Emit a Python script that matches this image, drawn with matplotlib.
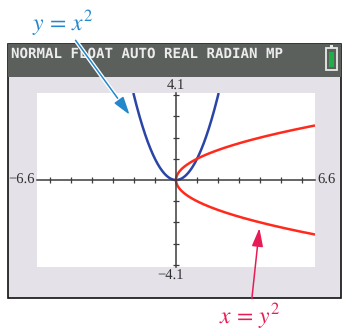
import numpy as np
import matplotlib.pyplot as plt
from matplotlib.patches import Rectangle
import matplotlib.patheffects as pe

# graphing window (calculator WINDOW settings)
xmin, xmax = -6.6, 6.6
ymin, ymax = -4.1, 4.1
xscl, yscl = 1, 1

# curve labels
parab_label = r'$y\,=\,x^2$'
side_label = r'$x\,=\,y^2$'
status_text = 'NORMAL FLOAT AUTO REAL RADIAN MP'

# y = x^2 shown where it fits the window, x = y^2 likewise
x_par = np.linspace(-np.sqrt(ymax), np.sqrt(ymax), 200)
y_par = x_par ** 2
y_side = np.linspace(-np.sqrt(xmax), np.sqrt(xmax), 200)
x_side = y_side ** 2

plt.rcParams['mathtext.fontset'] = 'stix'
plt.rcParams['text.hinting'] = 'none'
W, H = 342, 332
fig = plt.figure(figsize=(W / 100, H / 100), dpi=100)

# background in pixel coords: calculator screen
bg = fig.add_axes([0, 0, 1, 1])
bg.set_xlim(0, W)
bg.set_ylim(H, 0)
bg.axis('off')
bg.add_patch(Rectangle((8, 44), 333, 254, facecolor='#e4e2e8', edgecolor='#111111', lw=1.2))
bg.add_patch(Rectangle((8, 44), 333, 33, facecolor='#5b605d', edgecolor='none'))
bg.text(11, 54, status_text, color='#ececec', fontsize=10.2, family='DejaVu Sans Mono',
        fontweight='bold', va='center', ha='left')
# battery icon
bg.add_patch(Rectangle((325.5, 47.5), 11, 22, facecolor='none', edgecolor='#e8ece8', lw=1.3))
bg.add_patch(Rectangle((329.5, 45), 3.5, 2.5, facecolor='#e8ece8', edgecolor='none'))
bg.add_patch(Rectangle((328.5, 52), 5, 15, facecolor='#1fae48', edgecolor='none'))

# graph area
left, right, top, bottom = 37, 315, 93, 267
ax = fig.add_axes([left / W, 1 - bottom / H, (right - left) / W, (bottom - top) / H])
ax.set_facecolor('white')
ax.set_xlim(xmin, xmax)
ax.set_ylim(ymin, ymax)
for s in ['top', 'right']:
    ax.spines[s].set_visible(False)
for s in ['left', 'bottom']:
    ax.spines[s].set_position('zero')
    ax.spines[s].set_color('#3c3c3c')
    ax.spines[s].set_linewidth(1.1)
xt = [v for v in np.arange(-6, 7, xscl) if v != 0]
yt = [v for v in np.arange(-4, 5, yscl) if v != 0]
ax.set_xticks(xt)
ax.set_yticks(yt)
ax.set_xticklabels([])
ax.set_yticklabels([])
ax.tick_params(direction='inout', length=4.5, width=0.9, color='#3c3c3c')

ax.plot(x_par, y_par, color='#2a45a6', lw=1.8, solid_capstyle='butt')
ax.plot(x_side, y_side, color='#ff2a1c', lw=1.8, solid_capstyle='butt')

lab = dict(family='Liberation Serif', fontsize=10.5, color='#2e2e2e', annotation_clip=False)
ax.annotate('4.1', xy=(0, ymax), xytext=(0, 4.8), textcoords='offset points', ha='center', va='center', **lab)
ax.annotate('\u22124.1', xy=(0, ymin), xytext=(-4, -6.5), textcoords='offset points', ha='center', va='center', **lab)
ax.annotate('\u22126.6', xy=(xmin, 0), xytext=(-1.5, 0), textcoords='offset points', ha='right', va='center', **lab)
ax.annotate('6.6', xy=(xmax, 0), xytext=(1.5, 0), textcoords='offset points', ha='left', va='center', **lab)

halo = [pe.withStroke(linewidth=3, foreground='white')]
head = '-|>,head_length=0.65,head_width=0.2'
ax.annotate(parab_label, xy=(-2.2, 3.07), xycoords='data', xytext=(63, 23), textcoords=bg.transData,
            fontsize=17, color='#2387cc', ha='center', va='center', annotation_clip=False,
            arrowprops=dict(arrowstyle=head, color='#2387cc', lw=1.1,
                            shrinkA=0, shrinkB=0, path_effects=halo))
ax.annotate(side_label, xy=(3.96, -2.27), xycoords='data', xytext=(250, 316), textcoords=bg.transData,
            fontsize=17, color='#e81c55', ha='center', va='center', annotation_clip=False,
            arrowprops=dict(arrowstyle=head, color='#e81c55', lw=1.1,
                            shrinkA=0, shrinkB=0))

plt.savefig('out.png', dpi=100)
